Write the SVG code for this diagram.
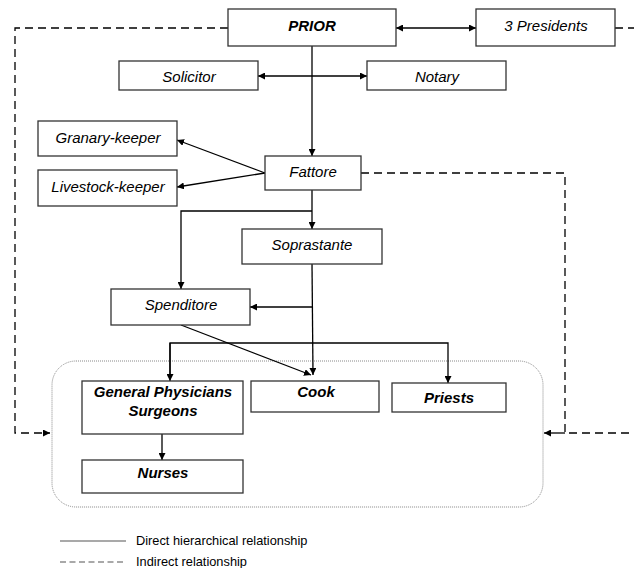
<svg xmlns="http://www.w3.org/2000/svg" width="634" height="568" viewBox="0 0 634 568">
<defs>
<marker id="ah" viewBox="0 0 10 10" refX="10" refY="5" markerWidth="7" markerHeight="7" markerUnits="userSpaceOnUse" orient="auto-start-reverse">
<path d="M0,0 L10,5 L0,10 z" fill="#000"/>
</marker>
<style>
.box{fill:#fff;stroke:#333;stroke-width:1.3}
.t{font-family:"Liberation Sans",Arial,sans-serif;font-size:15px;font-style:italic;text-anchor:middle;fill:#000}
.b{font-weight:bold}
.ln{fill:none;stroke:#000;stroke-width:1.3}
.ds{fill:none;stroke:#000;stroke-width:1.3;stroke-dasharray:8,5}
.lg{font-family:"Liberation Sans",Arial,sans-serif;font-size:12.8px;fill:#000}
</style>
</defs>
<rect x="52" y="361" width="491" height="146" rx="24" ry="24" fill="none" stroke="#888" stroke-width="1" stroke-dasharray="1,1"/>
<g id="connectors">
<path class="ds" d="M228,28 H15 V433 H50" marker-end="url(#ah)"/>
<path class="ds" d="M615,28 H634"/>
<path class="ds" d="M361,173 H565 V433 H634"/>
<path class="ln" d="M565,433 H544" marker-end="url(#ah)"/>
<path class="ln" d="M396,28 H476" marker-start="url(#ah)" marker-end="url(#ah)"/>
<path class="ln" d="M258,76 H367" marker-start="url(#ah)" marker-end="url(#ah)"/>
<path class="ln" d="M312,46 V156" marker-end="url(#ah)"/>
<path class="ln" d="M265,173 L177,140" marker-end="url(#ah)"/>
<path class="ln" d="M265,173 L177,187" marker-end="url(#ah)"/>
<path class="ln" d="M312,190 V229" marker-end="url(#ah)"/>
<path class="ln" d="M312,211 H181 V289" marker-end="url(#ah)"/>
<path class="ln" d="M312,264 L313,375" marker-end="url(#ah)"/>
<path class="ln" d="M312,307 H250" marker-end="url(#ah)"/>
<path class="ln" d="M181,325 L311,375" marker-end="url(#ah)"/>
<path class="ln" d="M170,377 V343 H448 V383" marker-end="url(#ah)"/>
<path class="ln" d="M170,343 V381" marker-end="url(#ah)"/>
<path class="ln" d="M162,434 V460" marker-end="url(#ah)"/>
</g>
<g id="prior"><rect class="box" x="228" y="9" width="168" height="37"/><text class="t b" x="312" y="31">PRIOR</text></g>
<g id="presidents"><rect class="box" x="476" y="9" width="139" height="37"/><text class="t" x="546" y="31">3 Presidents</text></g>
<g id="solicitor"><rect class="box" x="119" y="61" width="139" height="29"/><text class="t" x="189" y="82">Solicitor</text></g>
<g id="notary"><rect class="box" x="367" y="61" width="139" height="29"/><text class="t" x="437" y="82">Notary</text></g>
<g id="granary"><rect class="box" x="38" y="121" width="139" height="35"/><text class="t" x="108" y="143">Granary-keeper</text></g>
<g id="livestock"><rect class="box" x="38" y="170" width="139" height="36"/><text class="t" x="108" y="192">Livestock-keeper</text></g>
<g id="fattore"><rect class="box" x="265" y="156" width="96" height="34"/><text class="t" x="313" y="177">Fattore</text></g>
<g id="soprastante"><rect class="box" x="242" y="229" width="140" height="35"/><text class="t" x="312" y="250">Soprastante</text></g>
<g id="spenditore"><rect class="box" x="111" y="289" width="139" height="36"/><text class="t" x="181" y="310">Spenditore</text></g>
<g id="physicians"><rect class="box" x="82" y="381" width="161" height="53"/><text class="t b" x="163" y="397">General Physicians</text><text class="t b" x="163" y="416">Surgeons</text></g>
<g id="cook"><rect class="box" x="251" y="381" width="128" height="31"/><text class="t b" x="316" y="397">Cook</text></g>
<g id="priests"><rect class="box" x="392" y="383" width="114" height="29"/><text class="t b" x="449" y="403">Priests</text></g>
<g id="nurses"><rect class="box" x="82" y="460" width="161" height="33"/><text class="t b" x="163" y="478">Nurses</text></g>
<g id="legend">
<line x1="60" y1="541" x2="126" y2="541" stroke="#555" stroke-width="1.2"/>
<text class="lg" x="136" y="545">Direct hierarchical relationship</text>
<line x1="60" y1="562" x2="126" y2="562" stroke="#555" stroke-width="1.2" stroke-dasharray="6,3.5"/>
<text class="lg" x="136" y="566">Indirect relationship</text>
</g>
</svg>
